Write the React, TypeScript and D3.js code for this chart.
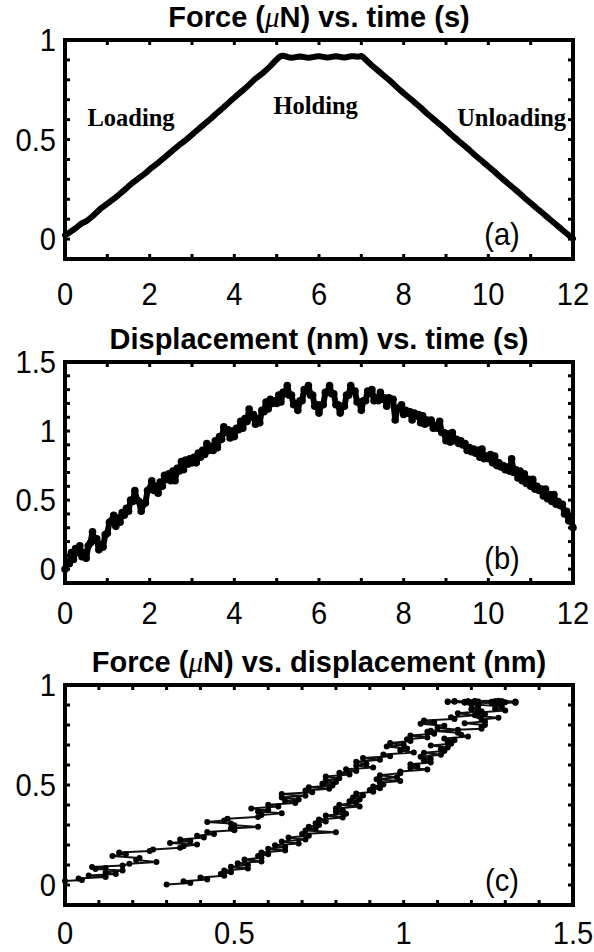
import React from 'react';
import * as d3 from 'd3';

// ---------- DATA ----------
const SAMPLE_STEP_S = 0.05;

// Force (uN), sampled every 0.05 s from 0 to 12 s
const forceUN: number[] = [
  0.020, 0.025, 0.032, 0.040, 0.047, 0.055, 0.063, 0.072, 0.080, 0.085,
  0.090, 0.097, 0.106, 0.115, 0.125, 0.135, 0.145, 0.155, 0.162, 0.170,
  0.178, 0.186, 0.194, 0.202, 0.210, 0.219, 0.228, 0.237, 0.246, 0.255,
  0.265, 0.274, 0.283, 0.291, 0.299, 0.307, 0.315, 0.323, 0.331, 0.340,
  0.350, 0.359, 0.367, 0.375, 0.383, 0.392, 0.401, 0.410, 0.419, 0.428,
  0.437, 0.446, 0.455, 0.464, 0.473, 0.481, 0.489, 0.497, 0.506, 0.515,
  0.524, 0.534, 0.543, 0.552, 0.561, 0.570, 0.579, 0.588, 0.597, 0.606,
  0.616, 0.626, 0.635, 0.644, 0.653, 0.662, 0.672, 0.682, 0.692, 0.701,
  0.710, 0.720, 0.729, 0.738, 0.747, 0.756, 0.766, 0.776, 0.786, 0.796,
  0.806, 0.814, 0.822, 0.830, 0.839, 0.849, 0.859, 0.869, 0.880, 0.891,
  0.902, 0.912, 0.920,
  0.921, 0.919, 0.915, 0.912, 0.911, 0.912, 0.914, 0.916, 0.917, 0.916,
  0.914, 0.912, 0.911, 0.912, 0.914, 0.916, 0.918, 0.918, 0.917, 0.915,
  0.913, 0.912, 0.913, 0.915, 0.917, 0.918, 0.917, 0.915, 0.913, 0.912,
  0.913, 0.916, 0.918, 0.919, 0.918, 0.916, 0.917, 0.920,
  0.912, 0.902, 0.892, 0.882, 0.872, 0.863, 0.854, 0.845, 0.836, 0.827,
  0.818, 0.809, 0.800, 0.791, 0.781, 0.771, 0.761, 0.751, 0.742, 0.733,
  0.724, 0.715, 0.706, 0.697, 0.688, 0.679, 0.670, 0.661, 0.651, 0.641,
  0.631, 0.622, 0.613, 0.604, 0.595, 0.586, 0.577, 0.568, 0.559, 0.549,
  0.539, 0.529, 0.520, 0.511, 0.502, 0.493, 0.484, 0.475, 0.466, 0.457,
  0.448, 0.438, 0.428, 0.419, 0.410, 0.401, 0.392, 0.383, 0.374, 0.365,
  0.356, 0.347, 0.338, 0.328, 0.318, 0.309, 0.300, 0.291, 0.282, 0.273,
  0.264, 0.255, 0.246, 0.237, 0.228, 0.218, 0.208, 0.199, 0.190, 0.181,
  0.172, 0.163, 0.154, 0.145, 0.136, 0.127, 0.118, 0.109, 0.100, 0.091,
  0.082, 0.073, 0.064, 0.055, 0.046, 0.037, 0.028, 0.019, 0.010, 0.002,
];

// Displacement (nm), same sampling
const displacementNm: number[] = [
  0.00, 0.05, 0.04, 0.12, 0.07, 0.15, 0.12, 0.17, 0.09, 0.12,
  0.08, 0.17, 0.19, 0.27, 0.21, 0.22, 0.14, 0.18, 0.16, 0.25,
  0.26, 0.34, 0.35, 0.39, 0.31, 0.37, 0.34, 0.41, 0.39, 0.44,
  0.42, 0.50, 0.49, 0.57, 0.50, 0.49, 0.42, 0.47, 0.48, 0.57,
  0.58, 0.64, 0.57, 0.60, 0.55, 0.63, 0.60, 0.68, 0.65, 0.69,
  0.64, 0.71, 0.64, 0.73, 0.71, 0.78, 0.72, 0.79, 0.76, 0.80,
  0.77, 0.81, 0.77, 0.84, 0.81, 0.86, 0.83, 0.91, 0.86, 0.89,
  0.86, 0.93, 0.88, 0.96, 0.94, 1.03, 0.99, 1.01, 0.95, 1.00,
  0.96, 1.02, 1.01, 1.07, 1.02, 1.09, 1.07, 1.16, 1.10, 1.12,
  1.05, 1.09, 1.06, 1.15, 1.14, 1.21, 1.16, 1.23, 1.20, 1.22,
  1.20, 1.26, 1.21, 1.28, 1.27, 1.33, 1.26, 1.26, 1.19, 1.20,
  1.15, 1.22, 1.22, 1.30, 1.29, 1.33, 1.26, 1.26, 1.18, 1.19,
  1.13, 1.19, 1.19, 1.28, 1.28, 1.33, 1.27, 1.27, 1.19, 1.19,
  1.13, 1.18, 1.18, 1.26, 1.26, 1.33, 1.29, 1.29, 1.21, 1.21,
  1.15, 1.22, 1.22, 1.29, 1.27, 1.30, 1.22, 1.24, 1.22, 1.28,
  1.23, 1.24, 1.18, 1.24, 1.23, 1.23, 1.08, 1.16, 1.17, 1.19,
  1.12, 1.15, 1.13, 1.14, 1.08, 1.13, 1.11, 1.12, 1.06, 1.11,
  1.05, 1.08, 1.06, 1.08, 1.02, 1.04, 1.02, 1.07, 0.99, 0.99,
  0.93, 0.98, 0.92, 0.99, 0.93, 0.94, 0.91, 0.93, 0.90, 0.91,
  0.86, 0.88, 0.85, 0.87, 0.84, 0.86, 0.81, 0.87, 0.80, 0.82,
  0.80, 0.83, 0.77, 0.82, 0.75, 0.77, 0.74, 0.75, 0.72, 0.74,
  0.71, 0.80, 0.70, 0.72, 0.66, 0.71, 0.64, 0.69, 0.62, 0.65,
  0.60, 0.65, 0.58, 0.60, 0.57, 0.58, 0.53, 0.58, 0.51, 0.54,
  0.49, 0.54, 0.47, 0.49, 0.46, 0.47, 0.40, 0.42, 0.35, 0.37,
  0.30,
];

const timeTicks = [0, 2, 4, 6, 8, 10, 12];
const forceTicks = [0, 0.5, 1];
const dispTicks = [0, 0.5, 1, 1.5];
const dispXTicks = [0, 0.5, 1, 1.5];

const phaseLabels = ['Loading', 'Holding', 'Unloading'];
const phaseLabelT = [1.56, 5.92, 10.55];
const phaseLabelF = [0.57, 0.63, 0.57];

// ---------- LAYOUT ----------
const W = 594;
const H = 952;
const FL = 65;
const FR = 573;
const SANS = '"Liberation Sans", Arial, sans-serif';
const SERIF = '"Liberation Serif", "Times New Roman", serif';
const SX = 0.94;

type PanelProps = {
  top: number;
  bottom: number;
  xDomain: [number, number];
  yDomain: [number, number];
  xMinorStep: number;
  yMinorStep: number;
  xLabels: number[];
  yLabels: number[];
  labelBaseline: number;
  title: React.ReactNode;
  tag: string;
  children: (x: d3.ScaleLinear<number, number>, y: d3.ScaleLinear<number, number>) => React.ReactNode;
};

function steps(a: number, b: number, s: number) {
  const out: number[] = [];
  const n = Math.round((b - a) / s);
  for (let i = 0; i <= n; i++) out.push(+(a + i * s).toFixed(6));
  return out;
}

function Panel(p: PanelProps) {
  const x = d3.scaleLinear().domain(p.xDomain).range([FL, FR]);
  const y = d3.scaleLinear().domain(p.yDomain).range([p.bottom, p.top]);
  const tl = 5;
  const xm = steps(p.xDomain[0], p.xDomain[1], p.xMinorStep).filter((v) => x(v) > FL + 1 && x(v) < FR - 1);
  const ym = steps(Math.ceil(p.yDomain[0] / p.yMinorStep) * p.yMinorStep, p.yDomain[1], p.yMinorStep).filter(
    (v) => y(v) > p.top + 1 && y(v) < p.bottom - 1
  );
  const cx = (FL + FR) / 2;
  return (
    <g>
      <text
        transform={`translate(${cx},${p.top - 13})`}
        textAnchor="middle"
        fontFamily={SANS}
        fontWeight="bold"
        fontSize={29}
      >
        {p.title}
      </text>
      {p.children(x, y)}
      {xm.map((v) => (
        <g key={'xt' + v}>
          <line x1={x(v)} x2={x(v)} y1={p.bottom} y2={p.bottom - tl} stroke="#000" strokeWidth={3} />
          <line x1={x(v)} x2={x(v)} y1={p.top} y2={p.top + tl} stroke="#000" strokeWidth={3} />
        </g>
      ))}
      {ym.map((v) => (
        <g key={'yt' + v}>
          <line x1={FL} x2={FL + tl} y1={y(v)} y2={y(v)} stroke="#000" strokeWidth={3} />
          <line x1={FR} x2={FR - tl} y1={y(v)} y2={y(v)} stroke="#000" strokeWidth={3} />
        </g>
      ))}
      <rect x={FL} y={p.top} width={FR - FL} height={p.bottom - p.top} fill="none" stroke="#000" strokeWidth={4} />
      {p.xLabels.map((v) => (
        <text
          key={'xl' + v}
          transform={`translate(${x(v)},${p.labelBaseline}) scale(${SX},1)`}
          textAnchor="middle"
          fontFamily={SANS}
          fontSize={31}
        >
          {String(v)}
        </text>
      ))}
      {p.yLabels.map((v) => (
        <text
          key={'yl' + v}
          transform={`translate(${FL - 9},${y(v) + 11}) scale(${SX},1)`}
          textAnchor="end"
          fontFamily={SANS}
          fontSize={31}
        >
          {String(v)}
        </text>
      ))}
      <text
        transform={`translate(${FR - 71},${p.bottom - 14}) scale(${SX},1)`}
        textAnchor="middle"
        fontFamily={SANS}
        fontSize={31}
      >
        {p.tag}
      </text>
    </g>
  );
}

const mu = (
  <tspan fontStyle="italic" fontWeight="normal" fontFamily={SERIF}>
    μ
  </tspan>
);

export default function App() {
  const time = forceUN.map((_, i) => i * SAMPLE_STEP_S);
  return (
    <svg
      width={W}
      height={H}
      viewBox={`0 0 ${W} ${H}`}
      style={{ position: 'absolute', left: 0, top: 0, background: '#fff' }}
    >
      <rect width={W} height={H} fill="#fff" />
      <Panel
        top={40}
        bottom={259}
        xDomain={[0, 12]}
        yDomain={[-0.1, 1]}
        xMinorStep={1}
        yMinorStep={0.1}
        xLabels={timeTicks}
        yLabels={forceTicks}
        labelBaseline={305}
        title={<>Force ({mu}N) vs. time (s)</>}
        tag="(a)"
      >
        {(x, y) => {
          const line = d3
            .line<number>()
            .x((_, i) => x(time[i]))
            .y((d) => y(d));
          return (
            <g>
              <path d={line(forceUN) || ''} fill="none" stroke="#000" strokeWidth={6} strokeLinejoin="round" strokeLinecap="round" />
              {phaseLabels.map((s, i) => (
                <text
                  key={s}
                  x={x(phaseLabelT[i])}
                  y={y(phaseLabelF[i])}
                  textAnchor="middle"
                  fontFamily={SERIF}
                  fontWeight="bold"
                  fontSize={24.5}
                >
                  {s}
                </text>
              ))}
            </g>
          );
        }}
      </Panel>
      <Panel
        top={362}
        bottom={583}
        xDomain={[0, 12]}
        yDomain={[-0.1, 1.5]}
        xMinorStep={1}
        yMinorStep={0.1}
        xLabels={timeTicks}
        yLabels={dispTicks}
        labelBaseline={624}
        title={<>Displacement (nm) vs. time (s)</>}
        tag="(b)"
      >
        {(x, y) => {
          const line = d3
            .line<number>()
            .x((_, i) => x(time[i]))
            .y((d) => y(d));
          return (
            <g>
              <path d={line(displacementNm) || ''} fill="none" stroke="#000" strokeWidth={6} strokeLinejoin="round" />
              {displacementNm.map((d, i) => (
                <circle key={i} cx={x(time[i])} cy={y(d)} r={3.8} fill="#000" />
              ))}
            </g>
          );
        }}
      </Panel>
      <Panel
        top={685}
        bottom={905}
        xDomain={[0, 1.5]}
        yDomain={[-0.1, 1.0]}
        xMinorStep={0.1}
        yMinorStep={0.1}
        xLabels={dispXTicks}
        yLabels={forceTicks}
        labelBaseline={944}
        title={<>Force ({mu}N) vs. displacement (nm)</>}
        tag="(c)"
      >
        {(x, y) => {
          const line = d3
            .line<number>()
            .x((d) => x(d))
            .y((_, i) => y(forceUN[i]));
          return (
            <g>
              <path d={line(displacementNm) || ''} fill="none" stroke="#111" strokeWidth={2} />
              {displacementNm.map((d, i) => (
                <circle key={i} cx={x(d)} cy={y(forceUN[i])} r={3} fill="#000" />
              ))}
            </g>
          );
        }}
      </Panel>
    </svg>
  );
}
